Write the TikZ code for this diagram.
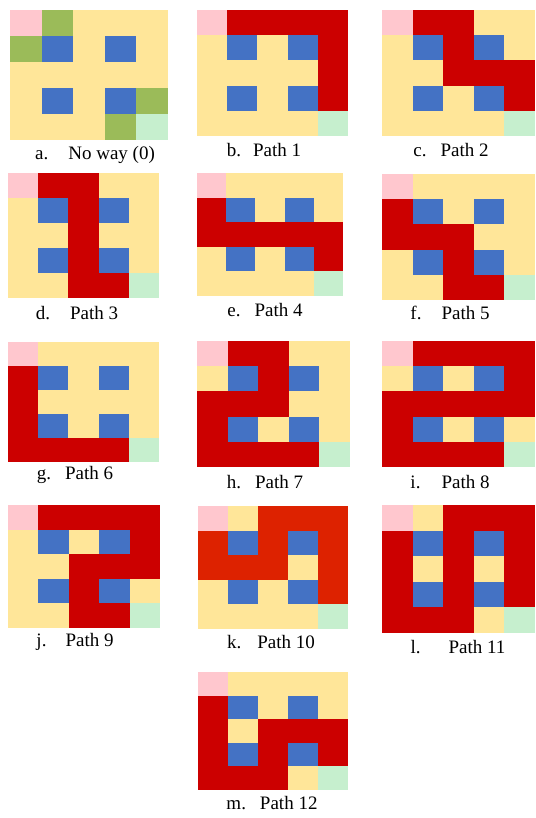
\documentclass[tikz,border=0pt]{standalone}
\usepackage{fontspec}
\setmainfont{Liberation Serif}
\usepackage{xcolor}
\usepackage{tikz}

\definecolor{mazeyellow}{HTML}{FFE699}
\definecolor{mazepink}{HTML}{FFC7CE}
\definecolor{mazegoal}{HTML}{C6EFCE}
\definecolor{mazeblue}{HTML}{4472C4}
\definecolor{mazered}{HTML}{CC0000}
\definecolor{mazeorange}{HTML}{DD2200}
\definecolor{mazegreen}{HTML}{9BBB59}

% one 5x5 maze: start, goal and the four blocks
\newcommand\mazebase{%
  \fill[mazeyellow] (0,0) rectangle (5,5);
  \fill[mazepink] (0,0) rectangle (1,1);
  \fill[mazegoal] (4,4) rectangle (5,5);
  \foreach \c/\r in {1/1,3/1,1/3,3/3}
    \fill[mazeblue] (\c,\r) rectangle ++(1,1);
}
\newcommand\mazecells[2][mazered]{%
  \foreach \c/\r in {#2}
    \fill[#1] (\c,\r) rectangle ++(1,1);
}

\begin{document}
\begin{tikzpicture}[
    x=1pt, y=-1pt,
    caption/.style={font=\fontsize{19}{22}\selectfont, inner sep=0pt, anchor=center}
]
\useasboundingbox[fill=white] (0,0) rectangle (535,818);

% a. no way
\begin{scope}[shift={(10,10)}, x=31.6pt, y=-26pt]
  \mazebase
  \mazecells[mazegreen]{1/0,0/1,4/3,3/4}
\end{scope}
\node[caption] (capA) at (95,155) {a.\hspace{20pt}No way (0)};

% b. path 1
\begin{scope}[shift={(197,10)}, x=30.2pt, y=-25.2pt]
  \mazebase
  \mazecells{1/0,2/0,3/0,4/0,4/1,4/2,4/3}
\end{scope}
\node[caption] (capB) at (264,150) {b.\hspace{12pt}Path 1};

% c. path 2
\begin{scope}[shift={(382,10)}, x=30.6pt, y=-25.2pt]
  \mazebase
  \mazecells{1/0,2/0,2/1,2/2,3/2,4/2,4/3}
\end{scope}
\node[caption] (capC) at (451,150) {c.\hspace{14pt}Path 2};

% d. path 3
\begin{scope}[shift={(8,173)}, x=30.2pt, y=-25pt]
  \mazebase
  \mazecells{1/0,2/0,2/1,2/2,2/3,2/4,3/4}
\end{scope}
\node[caption] (capD) at (77,313) {d.\hspace{20pt}Path 3};

% e. path 4
\begin{scope}[shift={(197,173)}, x=29.2pt, y=-24.6pt]
  \mazebase
  \mazecells{0/1,0/2,1/2,2/2,3/2,4/2,4/3}
\end{scope}
\node[caption] (capE) at (265,310) {e.\hspace{14pt}Path 4};

% f. path 5
\begin{scope}[shift={(382,174)}, x=30.6pt, y=-25.2pt]
  \mazebase
  \mazecells{0/1,0/2,1/2,2/2,2/3,2/4,3/4}
\end{scope}
\node[caption] (capF) at (450,313) {f.\hspace{20pt}Path 5};

% g. path 6
\begin{scope}[shift={(8,342)}, x=30.2pt, y=-24pt]
  \mazebase
  \mazecells{0/1,0/2,0/3,0/4,1/4,2/4,3/4}
\end{scope}
\node[caption] (capG) at (75,475) {g.\hspace{14pt}Path 6};

% h. path 7
\begin{scope}[shift={(197,341)}, x=30.6pt, y=-25.2pt]
  \mazebase
  \mazecells{1/0,2/0,2/1,2/2,1/2,0/2,0/3,0/4,1/4,2/4,3/4}
\end{scope}
\node[caption] (capH) at (265,482) {h.\hspace{14pt}Path 7};

% i. path 8
\begin{scope}[shift={(382,341)}, x=30.6pt, y=-25.2pt]
  \mazebase
  \mazecells{1/0,2/0,3/0,4/0,4/1,4/2,3/2,2/2,1/2,0/2,0/3,0/4,1/4,2/4,3/4}
\end{scope}
\node[caption] (capI) at (450,482) {i.\hspace{21pt}Path 8};

% j. path 9
\begin{scope}[shift={(8,505)}, x=30.4pt, y=-24.6pt]
  \mazebase
  \mazecells{1/0,2/0,3/0,4/0,4/1,4/2,3/2,2/2,2/3,2/4,3/4}
\end{scope}
\node[caption] (capJ) at (75,642) {j.\hspace{19pt}Path 9};

% k. path 10
\begin{scope}[shift={(198,506)}, x=30pt, y=-24.6pt]
  \mazebase
  \mazecells[mazeorange]{0/1,0/2,1/2,2/2,2/1,2/0,3/0,4/0,4/1,4/2,4/3}
\end{scope}
\node[caption] (capK) at (271,642) {k.\hspace{16pt}Path 10};

% l. path 11
\begin{scope}[shift={(382,505)}, x=30.6pt, y=-25.6pt]
  \mazebase
  \mazecells{0/1,0/2,0/3,0/4,1/4,2/4,2/3,2/2,2/1,2/0,3/0,4/0,4/1,4/2,4/3}
\end{scope}
\node[caption] (capL) at (458,647) {l.\hspace{28pt}Path 11};

% m. path 12
\begin{scope}[shift={(198,672)}, x=30pt, y=-23.6pt]
  \mazebase
  \mazecells{0/1,0/2,0/3,0/4,1/4,2/4,2/3,2/2,3/2,4/2,4/3}
\end{scope}
\node[caption] (capM) at (272,803) {m.\hspace{14pt}Path 12};
\end{tikzpicture}
\end{document}
